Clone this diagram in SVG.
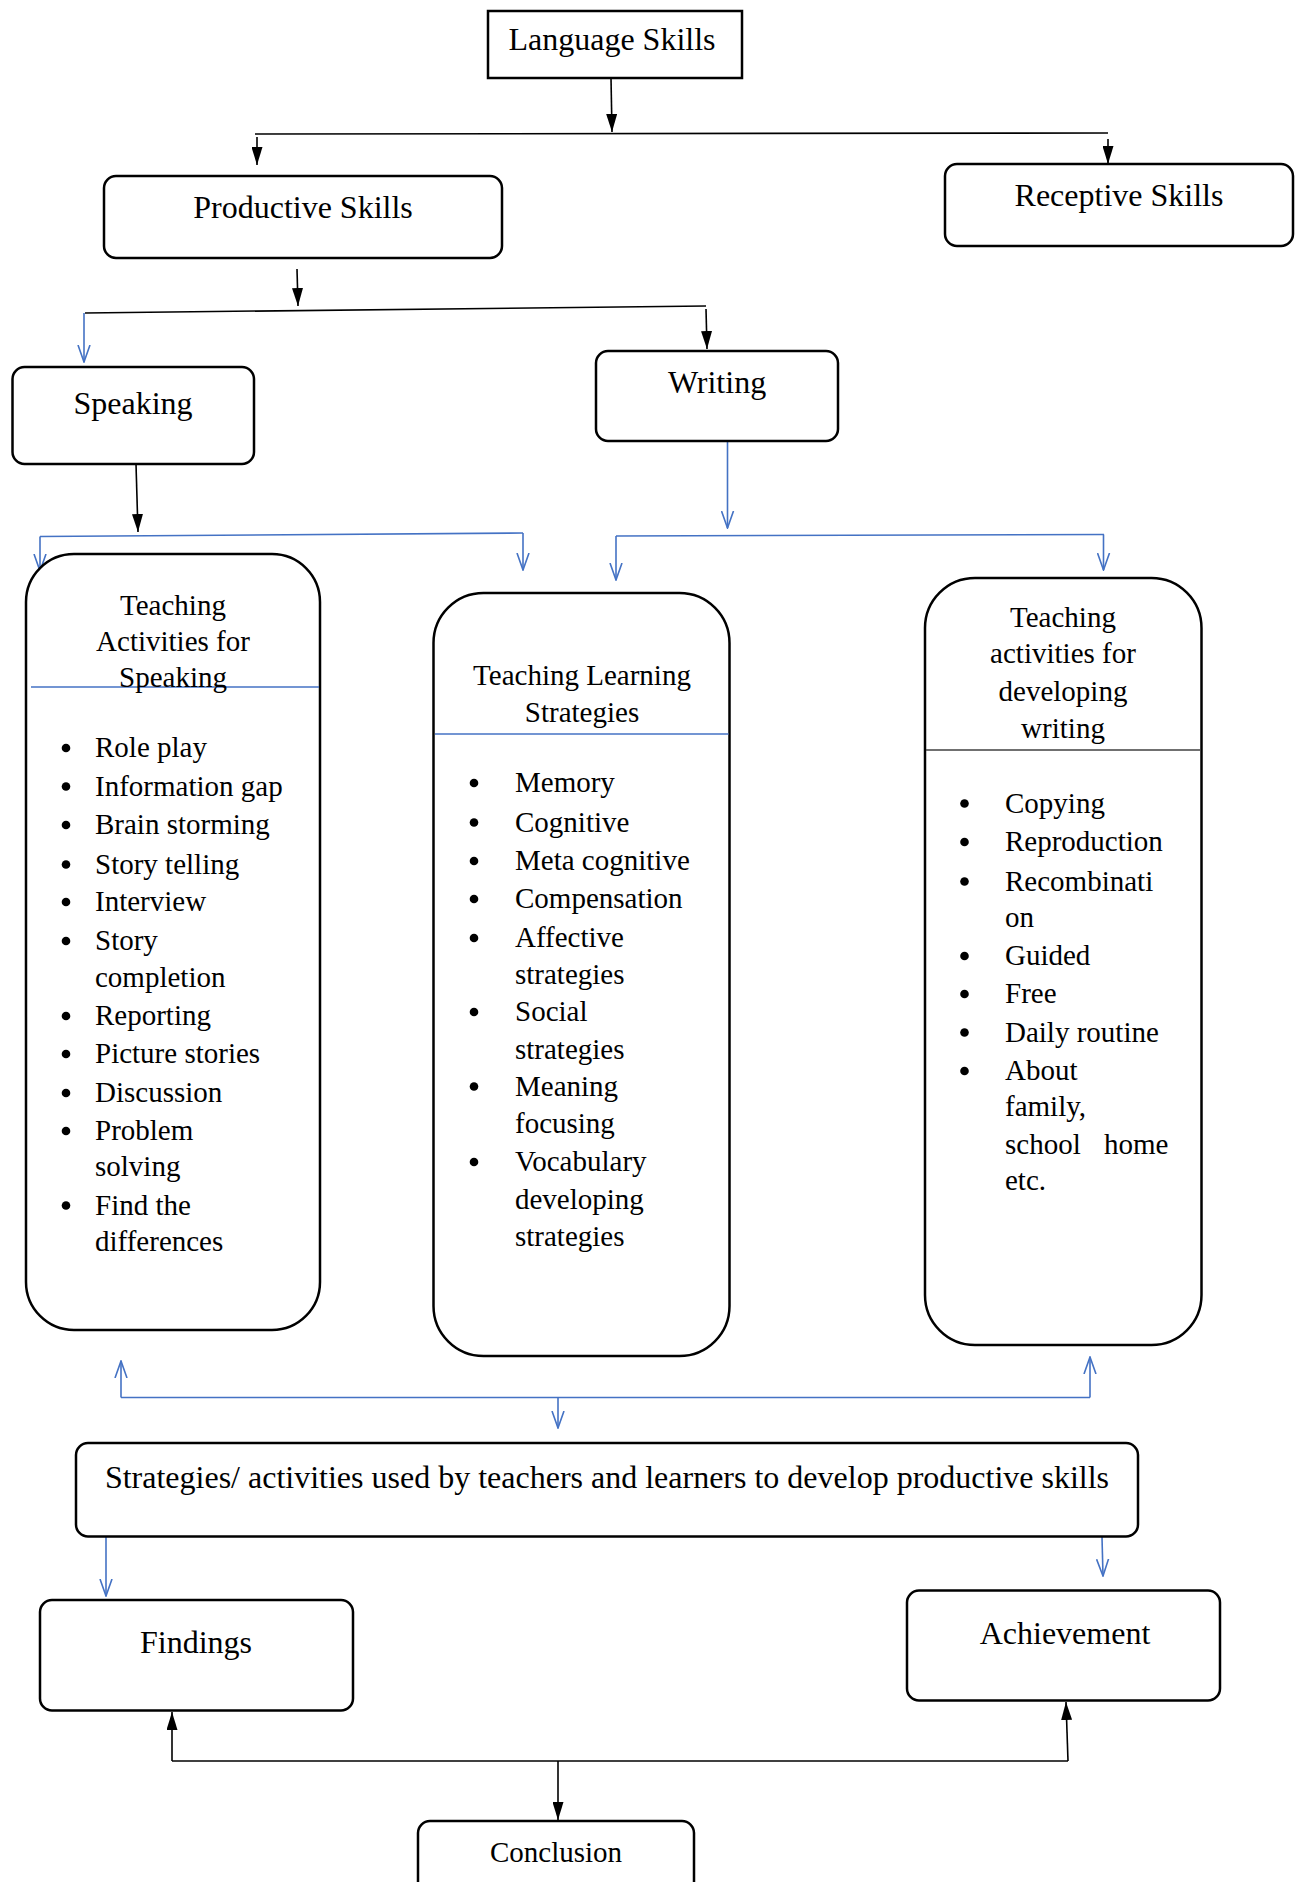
<svg xmlns="http://www.w3.org/2000/svg" width="1304" height="1882" viewBox="0 0 1304 1882">
<style>
.box{fill:#fff;stroke:#000;stroke-width:2.5}
.lbl{font-family:"Liberation Serif","Times New Roman",serif;font-size:32px;fill:#000;text-anchor:middle}
.t{font-family:"Liberation Serif","Times New Roman",serif;font-size:29px;fill:#000}
.tc{font-family:"Liberation Serif","Times New Roman",serif;font-size:29px;fill:#000;text-anchor:middle}
.k{stroke:#000;stroke-width:1.6;fill:none}
.b{stroke:#4472C4;stroke-width:1.6;fill:none}
</style>
<defs>
<marker id="ka" viewBox="0 0 18 11" refX="18" refY="5.5" markerWidth="18" markerHeight="11" markerUnits="userSpaceOnUse" orient="auto"><path d="M0,0 L18,5.5 L0,11 z" fill="#000"/></marker>
<marker id="ba" viewBox="0 0 18 14" refX="17" refY="7" markerWidth="18" markerHeight="14" markerUnits="userSpaceOnUse" orient="auto"><path d="M0,1 L17,7 L0,13" fill="none" stroke="#4472C4" stroke-width="1.6"/></marker>
</defs>

<g id="connectors">
<line class="k" x1="611" y1="78" x2="612" y2="132" marker-end="url(#ka)"/>
<line class="k" x1="255" y1="134" x2="1108" y2="133"/>
<line class="k" x1="257" y1="137" x2="257" y2="165" marker-end="url(#ka)"/>
<line class="k" x1="1108" y1="139" x2="1108" y2="164" marker-end="url(#ka)"/>
<line class="k" x1="297" y1="269" x2="298" y2="306" marker-end="url(#ka)"/>
<line class="k" x1="85" y1="313" x2="706" y2="306"/>
<line class="b" x1="84" y1="313" x2="84" y2="362" marker-end="url(#ba)"/>
<line class="k" x1="706" y1="309" x2="707" y2="349" marker-end="url(#ka)"/>
<line class="k" x1="136" y1="464" x2="138" y2="532" marker-end="url(#ka)"/>
<line class="b" x1="40" y1="536.5" x2="523" y2="533"/>
<line class="b" x1="40" y1="536.5" x2="40" y2="571" marker-end="url(#ba)"/>
<line class="b" x1="523" y1="533" x2="523" y2="570" marker-end="url(#ba)"/>
<line class="b" x1="727.5" y1="441" x2="727.5" y2="528" marker-end="url(#ba)"/>
<line class="b" x1="616" y1="536" x2="1104" y2="534.5"/>
<line class="b" x1="616" y1="536" x2="616" y2="580" marker-end="url(#ba)"/>
<line class="b" x1="1103.5" y1="534.5" x2="1103.5" y2="570" marker-end="url(#ba)"/>
<line class="b" x1="121" y1="1397.5" x2="1090" y2="1397.5"/>
<line class="b" x1="121" y1="1397.5" x2="121" y2="1361" marker-end="url(#ba)"/>
<line class="b" x1="1090" y1="1397.5" x2="1090" y2="1357" marker-end="url(#ba)"/>
<line class="b" x1="558" y1="1397.5" x2="558" y2="1428" marker-end="url(#ba)"/>
<line class="b" x1="106" y1="1537" x2="106" y2="1596" marker-end="url(#ba)"/>
<line class="b" x1="1102" y1="1537" x2="1103" y2="1576" marker-end="url(#ba)"/>
<line class="k" x1="172" y1="1761" x2="1068" y2="1761"/>
<line class="k" x1="172" y1="1761" x2="172" y2="1712" marker-end="url(#ka)"/>
<line class="k" x1="1068" y1="1761" x2="1066" y2="1702" marker-end="url(#ka)"/>
<line class="k" x1="558" y1="1761" x2="558" y2="1820" marker-end="url(#ka)"/>
</g>

<g id="language-skills">
<rect class="box" x="488" y="11" width="254" height="67"/>
<text class="lbl" x="612" y="50">Language Skills</text>
</g>
<g id="productive-skills">
<rect class="box" x="104" y="176" width="398" height="82" rx="12"/>
<text class="lbl" x="303" y="218">Productive Skills</text>
</g>
<g id="receptive-skills">
<rect class="box" x="945" y="164" width="348" height="82" rx="12"/>
<text class="lbl" x="1119" y="206">Receptive Skills</text>
</g>
<g id="speaking">
<rect class="box" x="12.5" y="367" width="241.5" height="97" rx="12"/>
<text class="lbl" x="133" y="414">Speaking</text>
</g>
<g id="writing">
<rect class="box" x="596" y="351" width="242" height="90" rx="12"/>
<text class="lbl" x="717" y="393">Writing</text>
</g>

<g id="teaching-activities-speaking">
<rect class="box" x="26" y="554" width="294" height="776" rx="48"/>
<line x1="31" y1="687" x2="319" y2="687" stroke="#4472C4" stroke-width="1.5"/>
<text class="tc" x="173" y="615">Teaching</text>
<text class="tc" x="173" y="651">Activities for</text>
<text class="tc" x="173" y="687">Speaking</text>
<g fill="#000">
<circle cx="66" cy="748" r="4.3"/><circle cx="66" cy="786.5" r="4.3"/><circle cx="66" cy="825" r="4.3"/><circle cx="66" cy="864.5" r="4.3"/><circle cx="66" cy="902" r="4.3"/><circle cx="66" cy="941" r="4.3"/><circle cx="66" cy="1016" r="4.3"/><circle cx="66" cy="1054" r="4.3"/><circle cx="66" cy="1093" r="4.3"/><circle cx="66" cy="1131" r="4.3"/><circle cx="66" cy="1205.5" r="4.3"/>
</g>
<text class="t" x="95" y="757">Role play</text>
<text class="t" x="95" y="795.5">Information gap</text>
<text class="t" x="95" y="834">Brain storming</text>
<text class="t" x="95" y="873.5">Story telling</text>
<text class="t" x="95" y="911">Interview</text>
<text class="t" x="95" y="950">Story</text>
<text class="t" x="95" y="986.5">completion</text>
<text class="t" x="95" y="1025">Reporting</text>
<text class="t" x="95" y="1063">Picture stories</text>
<text class="t" x="95" y="1102">Discussion</text>
<text class="t" x="95" y="1140">Problem</text>
<text class="t" x="95" y="1176">solving</text>
<text class="t" x="95" y="1214.5">Find the</text>
<text class="t" x="95" y="1250.5">differences</text>
</g>

<g id="teaching-learning-strategies">
<rect class="box" x="433.5" y="593" width="296" height="763" rx="50"/>
<line x1="435" y1="734" x2="728.5" y2="734" stroke="#4472C4" stroke-width="1.5"/>
<text class="tc" x="582" y="685">Teaching Learning</text>
<text class="tc" x="582" y="722">Strategies</text>
<g fill="#000">
<circle cx="474" cy="783" r="4.3"/><circle cx="474" cy="822.5" r="4.3"/><circle cx="474" cy="861" r="4.3"/><circle cx="474" cy="899" r="4.3"/><circle cx="474" cy="938" r="4.3"/><circle cx="474" cy="1012" r="4.3"/><circle cx="474" cy="1086.5" r="4.3"/><circle cx="474" cy="1162" r="4.3"/>
</g>
<text class="t" x="515" y="792">Memory</text>
<text class="t" x="515" y="831.5">Cognitive</text>
<text class="t" x="515" y="870">Meta cognitive</text>
<text class="t" x="515" y="908">Compensation</text>
<text class="t" x="515" y="947">Affective</text>
<text class="t" x="515" y="984">strategies</text>
<text class="t" x="515" y="1021">Social</text>
<text class="t" x="515" y="1058.5">strategies</text>
<text class="t" x="515" y="1095.5">Meaning</text>
<text class="t" x="515" y="1133">focusing</text>
<text class="t" x="515" y="1171">Vocabulary</text>
<text class="t" x="515" y="1208.5">developing</text>
<text class="t" x="515" y="1245.5">strategies</text>
</g>

<g id="teaching-activities-writing">
<rect class="box" x="925" y="578" width="276.5" height="767" rx="50"/>
<line x1="926" y1="750" x2="1200" y2="750" stroke="#404040" stroke-width="1.5"/>
<text class="tc" x="1063" y="627">Teaching</text>
<text class="tc" x="1063" y="663">activities for</text>
<text class="tc" x="1063" y="700.5">developing</text>
<text class="tc" x="1063" y="738">writing</text>
<g fill="#000">
<circle cx="964.5" cy="803.5" r="4.3"/><circle cx="964.5" cy="842" r="4.3"/><circle cx="964.5" cy="881.5" r="4.3"/><circle cx="964.5" cy="956" r="4.3"/><circle cx="964.5" cy="994" r="4.3"/><circle cx="964.5" cy="1032.5" r="4.3"/><circle cx="964.5" cy="1071" r="4.3"/>
</g>
<text class="t" x="1005" y="812.5">Copying</text>
<text class="t" x="1005" y="851">Reproduction</text>
<text class="t" x="1005" y="890.5">Recombinati</text>
<text class="t" x="1005" y="926.5">on</text>
<text class="t" x="1005" y="965">Guided</text>
<text class="t" x="1005" y="1003">Free</text>
<text class="t" x="1005" y="1041.5">Daily routine</text>
<text class="t" x="1005" y="1080">About</text>
<text class="t" x="1005" y="1116">family,</text>
<text class="t" x="1005" y="1153.5">school</text>
<text class="t" x="1104" y="1153.5">home</text>
<text class="t" x="1005" y="1189.5">etc.</text>
</g>

<g id="strategies">
<rect class="box" x="76" y="1443" width="1062" height="93.5" rx="12"/>
<text class="lbl" x="607" y="1488">Strategies/ activities used by teachers and learners to develop productive skills</text>
</g>
<g id="findings">
<rect class="box" x="40" y="1600" width="313" height="110.5" rx="12"/>
<text class="lbl" x="196" y="1653">Findings</text>
</g>
<g id="achievement">
<rect class="box" x="907" y="1590.5" width="313" height="110" rx="12"/>
<text class="lbl" x="1065" y="1644">Achievement</text>
</g>
<g id="conclusion">
<rect class="box" x="418" y="1821" width="276" height="90" rx="12"/>
<text class="tc" x="556" y="1862">Conclusion</text>
</g>
</svg>
